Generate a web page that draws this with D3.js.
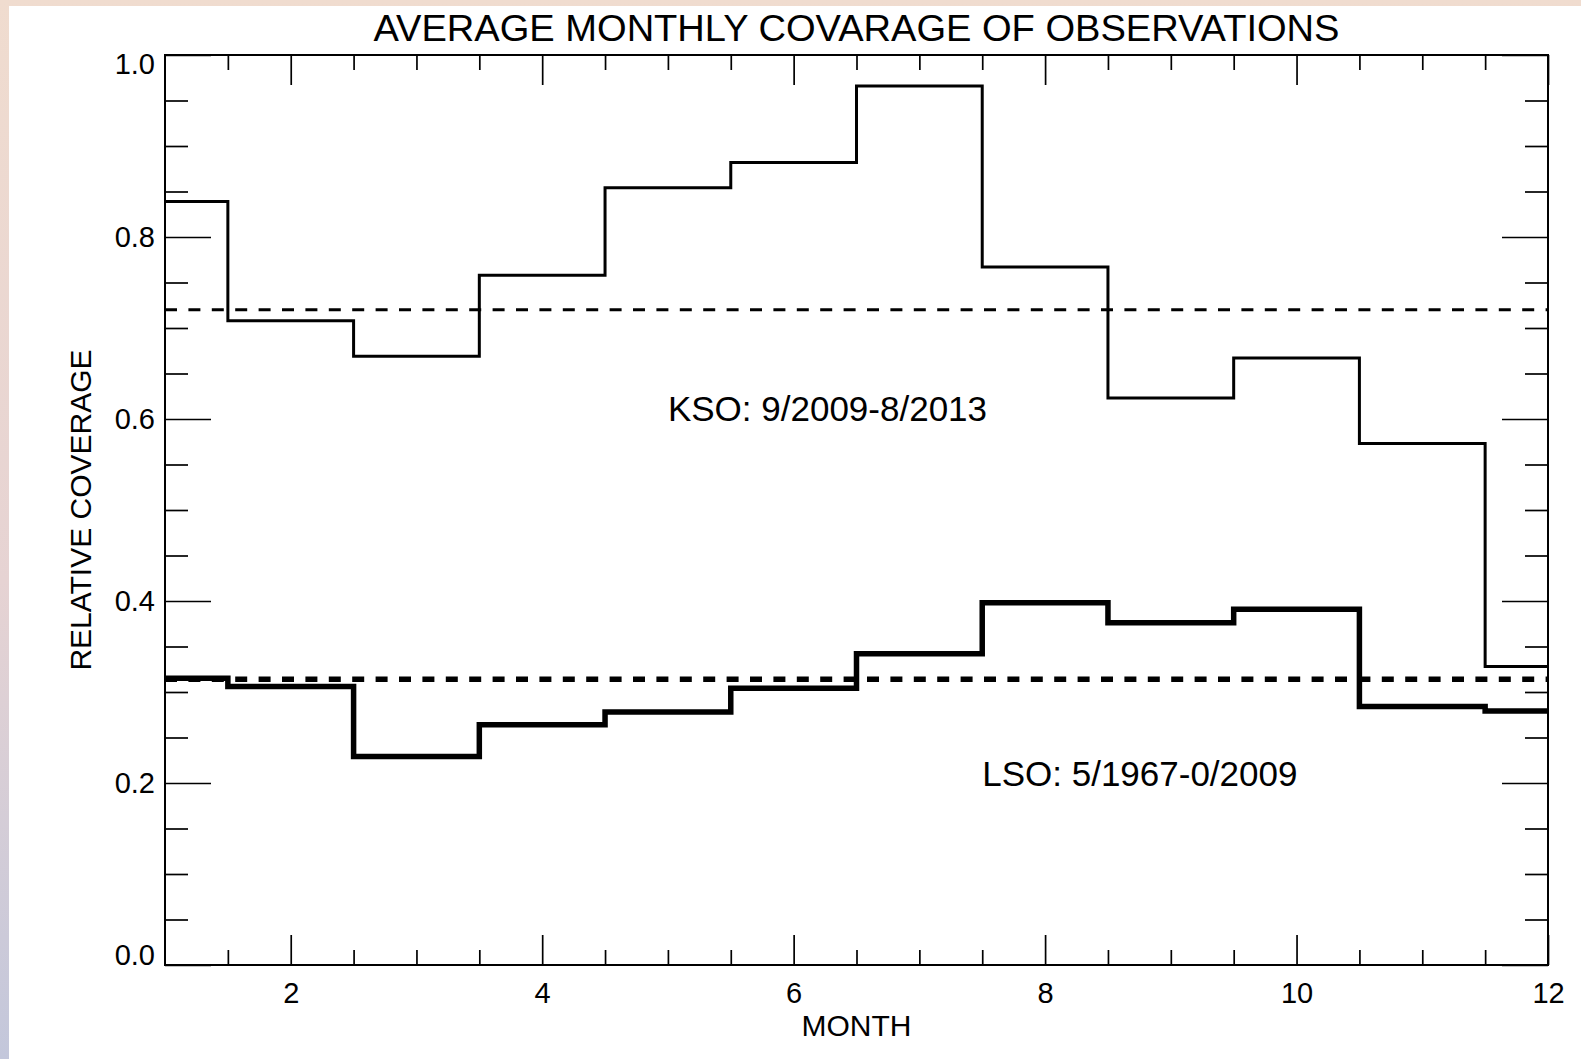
<!DOCTYPE html>
<html>
<head>
<meta charset="utf-8">
<script src="https://cdn.jsdelivr.net/npm/d3@7"></script>
<style>
  body { margin: 0; padding: 0; background: #fff; }
  svg { display: block; }
  text { font-family: "Liberation Sans", Arial, Helvetica, sans-serif; fill: #000; }
</style>
</head>
<body>
<div id="chart"></div>
<script>
// values
const months = [1, 2, 3, 4, 5, 6, 7, 8, 9, 10, 11, 12];
const ksoValues = [0.839, 0.708, 0.669, 0.758, 0.854, 0.882, 0.966, 0.767, 0.623, 0.667, 0.573, 0.328];
const lsoValues = [0.315, 0.306, 0.229, 0.264, 0.278, 0.304, 0.342, 0.398, 0.376, 0.391, 0.284, 0.279];
const ksoMean = 0.720;
const lsoMean = 0.314;
const xMajorTicks = [2, 4, 6, 8, 10, 12];
const yMajorTicks = [0, 0.2, 0.4, 0.6, 0.8, 1.0];
const ksoLabel = "KSO: 9/2009-8/2013";
const lsoLabel = "LSO: 5/1967-0/2009";

function renderChart() {
    const width = 1581;
    const height = 1059;
    const margin = { left: 165, right: 33, top: 55, bottom: 94 };
    const plotW = width - margin.left - margin.right;
    const plotH = height - margin.top - margin.bottom;

    const svg = d3.select("#chart").append("svg")
        .attr("width", width)
        .attr("height", height);

    // page background: thin tinted border at top/left
    const defs = svg.append("defs");
    const bg = defs.append("linearGradient")
        .attr("id", "bgGrad")
        .attr("x1", "0").attr("y1", "0")
        .attr("x2", "0").attr("y2", "1");
    bg.append("stop").attr("offset", "0%").attr("stop-color", "#f0dccf");
    bg.append("stop").attr("offset", "55%").attr("stop-color", "#e6d3d3");
    bg.append("stop").attr("offset", "100%").attr("stop-color", "#c3c7db");

    svg.append("rect")
        .attr("width", width).attr("height", height)
        .attr("fill", "url(#bgGrad)");
    svg.append("rect")
        .attr("x", 9).attr("y", 6)
        .attr("width", width - 9).attr("height", height - 6)
        .attr("fill", "#fff");

    const x = d3.scaleLinear().domain([1, 12]).range([0, plotW]);
    const y = d3.scaleLinear().domain([0, 1]).range([plotH, 0]);

    const g = svg.append("g")
        .attr("transform", `translate(${margin.left},${margin.top})`);

    // minor tick positions
    const xMinor = d3.range(1.5, 12, 0.5).filter(v => !xMajorTicks.includes(v));
    const yMinor = d3.range(0.05, 1, 0.05).filter(v => Math.abs(v * 5 - Math.round(v * 5)) > 1e-6);

    const xMajLen = 30, xMinLen = 15, yMajLen = 46, yMinLen = 23;

    function styleAxis(sel) {
        sel.select(".domain").remove();
        sel.selectAll(".tick line").attr("stroke", "#000").attr("stroke-width", 1.7);
        sel.selectAll(".tick text")
            .attr("fill", "#000")
            .style("font-family", "'Liberation Sans', Arial, sans-serif")
            .style("font-size", "29px");
    }

    // bottom axis with labels
    g.append("g")
        .attr("transform", `translate(0,${plotH})`)
        .call(d3.axisBottom(x).tickValues(xMajorTicks).tickSize(-xMajLen).tickPadding(17)
            .tickFormat(d3.format("d")))
        .call(styleAxis);
    g.append("g")
        .attr("transform", `translate(0,${plotH})`)
        .call(d3.axisBottom(x).tickValues(xMinor).tickSize(-xMinLen).tickFormat(""))
        .call(styleAxis);

    // top axis
    g.append("g")
        .call(d3.axisTop(x).tickValues(xMajorTicks).tickSize(-xMajLen).tickFormat(""))
        .call(styleAxis);
    g.append("g")
        .call(d3.axisTop(x).tickValues(xMinor).tickSize(-xMinLen).tickFormat(""))
        .call(styleAxis);

    // left axis with labels (end labels pulled inside the frame, as in the original)
    g.append("g")
        .call(d3.axisLeft(y).tickValues(yMajorTicks).tickSize(-yMajLen).tickPadding(10)
            .tickFormat(d3.format(".1f")))
        .call(styleAxis)
        .selectAll(".tick text")
        .attr("y", d => d === 0 ? -10 : (d === 1 ? 9 : 0));
    g.append("g")
        .call(d3.axisLeft(y).tickValues(yMinor).tickSize(-yMinLen).tickFormat(""))
        .call(styleAxis);

    // right axis
    g.append("g")
        .attr("transform", `translate(${plotW},0)`)
        .call(d3.axisRight(y).tickValues(yMajorTicks).tickSize(-yMajLen).tickFormat(""))
        .call(styleAxis);
    g.append("g")
        .attr("transform", `translate(${plotW},0)`)
        .call(d3.axisRight(y).tickValues(yMinor).tickSize(-yMinLen).tickFormat(""))
        .call(styleAxis);

    // frame
    g.append("rect")
        .attr("x", 0).attr("y", 0)
        .attr("width", plotW).attr("height", plotH)
        .attr("fill", "none")
        .attr("stroke", "#000")
        .attr("stroke-width", 2);

    // histogram steps
    const stepLine = d3.line()
        .x(d => x(d[0]))
        .y(d => y(d[1]))
        .curve(d3.curveStep);

    g.append("path")
        .datum(months.map((m, i) => [m, ksoValues[i]]))
        .attr("d", stepLine)
        .attr("fill", "none")
        .attr("stroke", "#000")
        .attr("stroke-width", 3);

    g.append("path")
        .datum(months.map((m, i) => [m, lsoValues[i]]))
        .attr("d", stepLine)
        .attr("fill", "none")
        .attr("stroke", "#000")
        .attr("stroke-width", 5.5);

    // mean lines
    g.append("line")
        .attr("x1", x(1)).attr("x2", x(12))
        .attr("y1", y(ksoMean)).attr("y2", y(ksoMean))
        .attr("stroke", "#000")
        .attr("stroke-width", 3)
        .attr("stroke-dasharray", "12,11.4");

    g.append("line")
        .attr("x1", x(1)).attr("x2", x(12))
        .attr("y1", y(lsoMean)).attr("y2", y(lsoMean))
        .attr("stroke", "#000")
        .attr("stroke-width", 5.5)
        .attr("stroke-dasharray", "12,11.4");

    // series labels
    g.append("text")
        .attr("x", x(5.0))
        .attr("y", y(0.598))
        .style("font-size", "35px")
        .text(ksoLabel);

    g.append("text")
        .attr("x", x(7.5))
        .attr("y", y(0.197))
        .style("font-size", "35px")
        .text(lsoLabel);

    // title and axis titles
    svg.append("text")
        .attr("x", margin.left + plotW / 2)
        .attr("y", 41)
        .attr("text-anchor", "middle")
        .style("font-size", "37px")
        .attr("textLength", 966)
        .attr("lengthAdjust", "spacingAndGlyphs")
        .text("AVERAGE MONTHLY COVARAGE OF OBSERVATIONS");

    svg.append("text")
        .attr("x", margin.left + plotW / 2)
        .attr("y", 1036)
        .attr("text-anchor", "middle")
        .style("font-size", "30px")
        .text("MONTH");

    svg.append("text")
        .attr("transform", `translate(91,${margin.top + plotH / 2}) rotate(-90)`)
        .attr("text-anchor", "middle")
        .style("font-size", "30px")
        .text("RELATIVE COVERAGE");
}

renderChart();
</script>
</body>
</html>
